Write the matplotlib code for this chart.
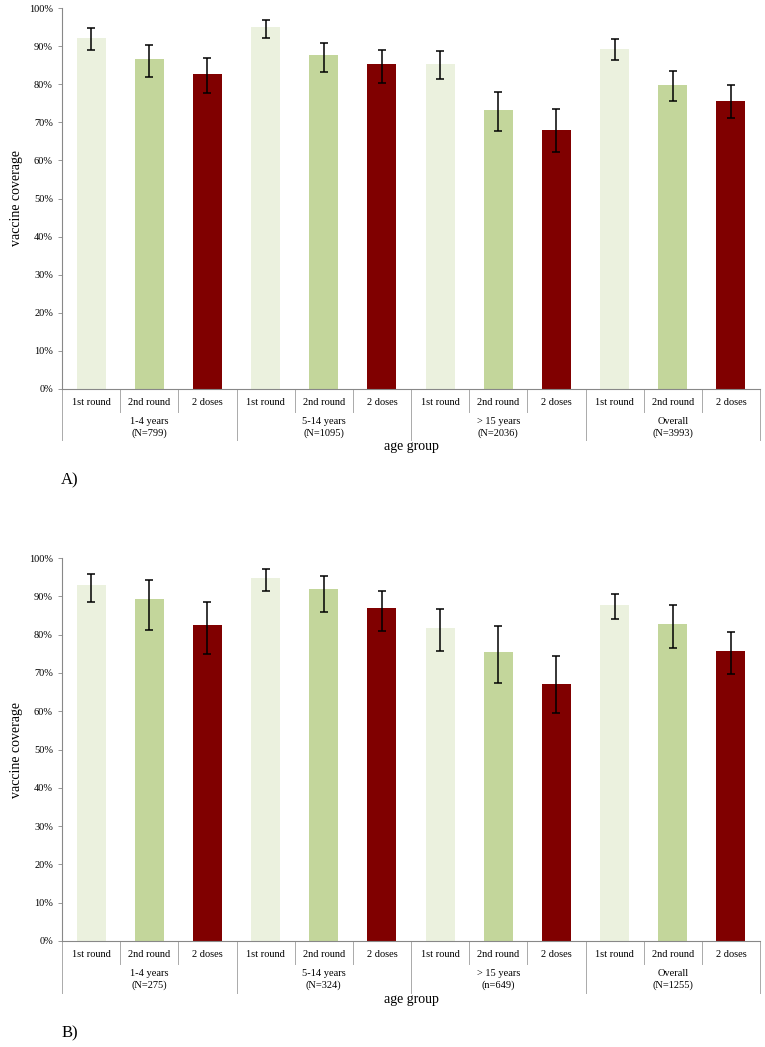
import numpy as np
import matplotlib.pyplot as plt
from matplotlib.ticker import PercentFormatter

plt.rcParams['font.family'] = ['Liberation Serif', 'DejaVu Serif']

rounds = ['1st round', '2nd round', '2 doses']
colors = ['#EBF1DE', '#C3D69B', '#800000']

# panel A
groups_a = ['1-4 years\n(N=799)', '5-14 years\n(N=1095)', '> 15 years\n(N=2036)', 'Overall\n(N=3993)']
cov_a = [92.1, 86.5, 82.8, 95.0, 87.6, 85.2, 85.4, 73.1, 68.1, 89.3, 79.7, 75.7]
low_a = [89.0, 81.9, 77.7, 92.1, 83.3, 80.4, 81.4, 67.7, 62.2, 86.4, 75.6, 71.0]
high_a = [94.7, 90.3, 86.9, 96.9, 90.9, 88.9, 88.6, 77.9, 73.6, 91.9, 83.4, 79.8]

# panel B
groups_b = ['1-4 years\n(N=275)', '5-14 years\n(N=324)', '> 15 years\n(n=649)', 'Overall\n(N=1255)']
cov_b = [92.9, 89.4, 82.6, 94.7, 91.8, 87.0, 81.8, 75.5, 67.1, 87.6, 82.7, 75.6]
low_b = [88.6, 81.3, 75.0, 91.5, 85.9, 80.9, 75.7, 67.3, 59.6, 84.1, 76.5, 69.8]
high_b = [95.8, 94.2, 88.4, 97.0, 95.4, 91.5, 86.7, 82.3, 74.4, 90.5, 87.7, 80.8]


def draw_panel(ax, cov, low, high, groups, letter):
    cov = np.array(cov)
    x = np.arange(len(cov))
    bar_colors = [colors[i % 3] for i in x]
    yerr = [cov - np.array(low), np.array(high) - cov]
    ax.bar(x, cov, width=0.5, color=bar_colors)
    ax.errorbar(x, cov, yerr=yerr, fmt='none', ecolor='black', elinewidth=1.1,
                capsize=3, capthick=1.1)
    ax.set_xlim(-0.5, len(cov) - 0.5)
    ax.set_ylim(0, 100)
    ax.set_yticks(np.arange(0, 101, 10))
    ax.yaxis.set_major_formatter(PercentFormatter(decimals=0))
    ax.tick_params(axis='y', labelsize=7.5, length=3, width=0.6, color='#888888')
    ax.set_xticks([])
    for s in ['top', 'right']:
        ax.spines[s].set_visible(False)
    for s in ['left', 'bottom']:
        ax.spines[s].set_color('#888888')
        ax.spines[s].set_linewidth(0.8)
    ax.set_ylabel('vaccine coverage', fontsize=10)

    trans = ax.get_xaxis_transform()
    # category labels under the axis
    for i in x:
        ax.text(i, -0.035, rounds[i % 3], transform=trans, ha='center', va='center', fontsize=7.5)
    for g, name in enumerate(groups):
        ax.text(3 * g + 1, -0.1, name, transform=trans, ha='center', va='center',
                fontsize=7.5, linespacing=1.3)
    # separator lines
    for b in np.arange(-0.5, len(cov), 1.0):
        long_line = (b + 0.5) % 3 == 0
        bottom = -0.135 if long_line else -0.06
        ax.plot([b, b], [0, bottom], transform=trans, color='#aaaaaa', lw=0.7, clip_on=False)
    ax.text(5.5, -0.152, 'age group', transform=trans, ha='center', va='center', fontsize=10)
    ax.text(-0.36, -0.24, letter, transform=trans, ha='center', va='center', fontsize=12)


fig = plt.figure(figsize=(7.65, 10.47), dpi=100)
ax_a = fig.add_axes([62 / 765, 1 - 389 / 1047, 698 / 765, 381 / 1047])
ax_b = fig.add_axes([62 / 765, 1 - 941 / 1047, 698 / 765, 383 / 1047])

draw_panel(ax_a, cov_a, low_a, high_a, groups_a, 'A)')
draw_panel(ax_b, cov_b, low_b, high_b, groups_b, 'B)')

fig.savefig('out.png', dpi=100)
